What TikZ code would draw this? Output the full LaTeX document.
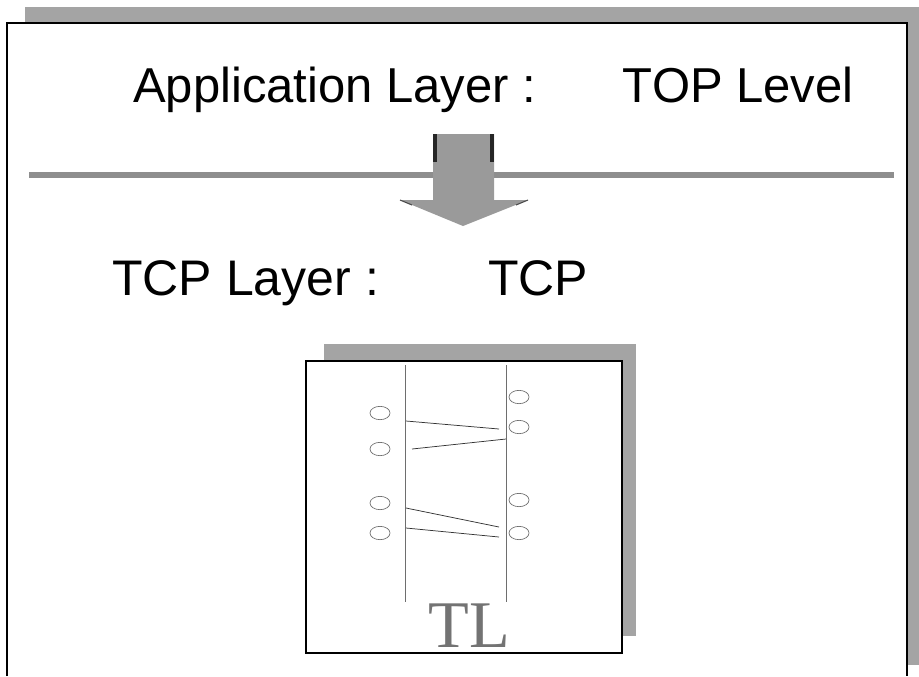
\documentclass[tikz,border=0pt]{standalone}
\usepackage{fontspec}
\setmainfont{Liberation Serif}
\setsansfont{Liberation Sans}
\usetikzlibrary{shapes.geometric}
\definecolor{shadowgray}{HTML}{A4A4A4}
\definecolor{rulegray}{HTML}{8E8E8E}
\definecolor{arrowgray}{HTML}{9A9A9A}
\definecolor{thingray}{HTML}{6E6E6E}
\tikzset{
  heading/.style={inner sep=0pt, anchor=base west, font=\sffamily\fontsize{36.75pt}{40pt}\selectfont},
  subheading/.style={inner sep=0pt, anchor=base west, font=\sffamily\fontsize{37.5pt}{40pt}\selectfont},
  frameline/.style={draw=black, line width=1.1pt},
  rail/.style={draw=thingray, line width=0.6pt},
  port/.style={ellipse, draw=thingray, line width=0.5pt, minimum width=15pt, minimum height=10pt, inner sep=0pt},
  msg/.style={draw=black!80, line width=0.55pt},
}
\begin{document}
\begin{tikzpicture}[x=0.75pt, y=-0.75pt]
\useasboundingbox (0,0) rectangle (919,676);
\fill[white] (0,0) rectangle (919,676);

% page frame with its drop shadow
\fill[shadowgray] (25,7) rectangle (919,665);
\fill[white] (7,23) rectangle (907,676);
\draw[frameline] (7,676) -- (7,23) -- (907,23) -- (907,676);

% titles
\node[heading] (app) at (133,102) {Application Layer :\hspace{65pt}TOP Level};
\node[subheading] (tcp) at (112,295) {TCP Layer :\hspace{82pt}TCP};

% separator rule
\coordinate (ruleL) at (29,175);
\coordinate (ruleR) at (894,175);
\draw[draw=rulegray, line width=5pt] (ruleL) -- (ruleR);

% block arrow pointing down
\fill[arrowgray] (433,134) -- (494,134) -- (494,200) -- (528,200) -- (463,226)
  -- (400,200) -- (433,200) -- cycle;
\fill[black!85] (433,134) rectangle (437,162);
\fill[black!85] (490,134) rectangle (494,162);
\draw[black!70, line width=0.8pt] (400,200) -- (412,205);
\draw[black!70, line width=0.8pt] (528,200) -- (516,205);

% TL box with shadow
\fill[shadowgray] (324,344) rectangle (636,636);
\node[draw=black, line width=1.3pt, fill=white, minimum width=237pt, minimum height=219pt,
  inner sep=0pt] (tlbox) at (464,507) {};

% the two rails
\coordinate (lt) at (405,365);
\coordinate (lb) at (405,602);
\coordinate (rt) at (506,365);
\coordinate (rb) at (506,602);
\draw[rail] (lt) -- (lb);
\draw[rail] (rt) -- (rb);

% ports
\node[port] (l1) at (380,413) {};
\node[port] (l2) at (380,449) {};
\node[port] (l3) at (380,503) {};
\node[port] (l4) at (380,533) {};
\node[port] (r1) at (519,397) {};
\node[port] (r2) at (519,427) {};
\node[port] (r3) at (519,500) {};
\node[port] (r4) at (519,533) {};

% messages between the rails
\coordinate (m1a) at (406,421); \coordinate (m1b) at (499,429);
\coordinate (m2a) at (506,439); \coordinate (m2b) at (412,449);
\coordinate (m3a) at (406,508); \coordinate (m3b) at (499,527);
\coordinate (m4a) at (406,528); \coordinate (m4b) at (499,537);
\draw[msg] (m1a) -- (m1b);
\draw[msg] (m2a) -- (m2b);
\draw[msg] (m3a) -- (m3b);
\draw[msg] (m4a) -- (m4b);

% label
\node[inner sep=0pt, anchor=base, text=black!55,
  font=\rmfamily\fontsize{50pt}{52pt}\selectfont] (tl) at (469,647) {TL};
\end{tikzpicture}
\end{document}
